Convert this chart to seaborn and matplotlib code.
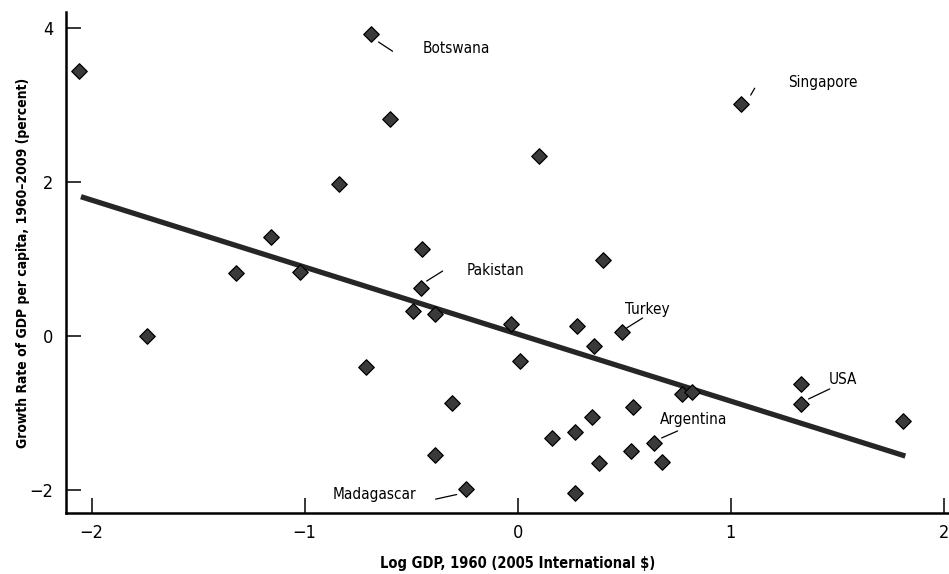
import matplotlib
matplotlib.use("Agg")
import matplotlib.pyplot as plt
import seaborn as sns
import pandas as pd

# ---- data ----
log_gdp = [-2.06, -1.74, -1.32, -1.16, -1.02, -0.84, -0.71, -0.69, -0.60, -0.49,
           -0.45, -0.455, -0.39, -0.39, -0.31, -0.24, -0.03, 0.01, 0.10, 0.16,
           0.27, 0.27, 0.28, 0.35, 0.36, 0.38, 0.40, 0.49, 0.53, 0.54,
           0.64, 0.68, 0.77, 0.82, 1.05, 1.33, 1.33, 1.81]
growth = [3.44, 0.00, 0.82, 1.29, 0.83, 1.97, -0.40, 3.92, 2.82, 0.32,
          1.13, 0.63, 0.29, -1.55, -0.87, -1.99, 0.15, -0.33, 2.34, -1.33,
          -1.25, -2.04, 0.13, -1.05, -0.13, -1.65, 0.99, 0.05, -1.49, -0.92,
          -1.39, -1.64, -0.75, -0.73, 3.01, -0.62, -0.88, -1.10]
country = ["", "", "", "", "", "", "", "Botswana", "", "",
           "", "Pakistan", "", "", "", "Madagascar", "", "", "", "",
           "", "", "", "", "", "", "", "Turkey", "", "",
           "Argentina", "", "", "", "Singapore", "", "USA", ""]
fit_x = [-2.05, 1.82]
fit_y = [1.81, -1.56]
x_ticks = [-2, -1, 0, 1, 2]
y_ticks = [-2, 0, 2, 4]
x_label = "Log GDP, 1960 (2005 International $)"
y_label = "Growth Rate of GDP per capita, 1960\u20132009 (percent)"

df = pd.DataFrame({"x": log_gdp, "y": growth, "country": country})
fit = pd.DataFrame({"x": fit_x, "y": fit_y})

sns.set_style("ticks")
plt.rcParams["font.family"] = ["DejaVu Sans"]
plt.rcParams["font.stretch"] = "condensed"
plt.rcParams["text.color"] = "black"
plt.rcParams["axes.labelcolor"] = "black"
plt.rcParams["xtick.color"] = "black"
plt.rcParams["ytick.color"] = "black"

fig = plt.figure(figsize=(9.49, 5.74), dpi=100)
ax = fig.add_axes([66 / 949, (574 - 513) / 574, (949 - 66) / 949, (513 - 12) / 574])

sns.lineplot(data=fit, x="x", y="y", ax=ax, color="#262626", linewidth=3.8,
             solid_capstyle="butt", zorder=2)
sns.scatterplot(data=df, x="x", y="y", ax=ax, marker="D", s=62,
                color="#3a3a3a", edgecolor="black", linewidth=0.9, zorder=3)

ax.set_xlim(-2.12, 2.025)
ax.set_ylim(-2.30, 4.21)
ax.set_xticks(x_ticks)
ax.set_yticks(y_ticks)
ax.set_xticklabels([f"\u2212{abs(v)}" if v < 0 else str(v) for v in x_ticks], fontsize=13)
ax.set_yticklabels([f"\u2212{abs(v)}" if v < 0 else str(v) for v in y_ticks], fontsize=13)
ax.tick_params(direction="in", length=11, width=1.1, color="black", pad=8)
ax.tick_params(axis="y", pad=9)
for s in ["top", "right"]:
    ax.spines[s].set_visible(False)
for s in ["left", "bottom"]:
    ax.spines[s].set_linewidth(1.8)
    ax.spines[s].set_color("black")

ax.set_xlabel(x_label, fontsize=10.5, fontweight="bold")
ax.xaxis.set_label_coords(0.512, -0.085)
ax.set_ylabel(y_label, fontsize=10, fontweight="bold")
ax.yaxis.set_label_coords(-0.041, 0.5)

# ---- labels and leader lines ----
labels = {
    "Botswana": ((-0.446, 3.74), "left", [(-0.653, 3.82), (-0.587, 3.70)]),
    "Pakistan": ((-0.239, 0.857), "left", [(-0.427, 0.714), (-0.352, 0.844)]),
    "Singapore": ((1.272, 3.29), "left", [(1.094, 3.13), (1.113, 3.22)]),
    "Madagascar": ((-0.869, -2.065), "left", [(-0.385, -2.12), (-0.286, -2.06)]),
    "Turkey": ((0.502, 0.35), "left", [(0.512, 0.104), (0.587, 0.234)]),
    "USA": ((1.46, -0.56), "left", [(1.366, -0.818), (1.465, -0.688)]),
    "Argentina": ((0.667, -1.08), "left", [(0.676, -1.325), (0.751, -1.234)]),
}
for name, (pos, ha, seg) in labels.items():
    ax.text(pos[0], pos[1], name, ha=ha, va="center", fontsize=11, color="black")
    ax.plot([seg[0][0], seg[1][0]], [seg[0][1], seg[1][1]], color="black", linewidth=0.9)

fig.savefig("out.png", dpi=100)
